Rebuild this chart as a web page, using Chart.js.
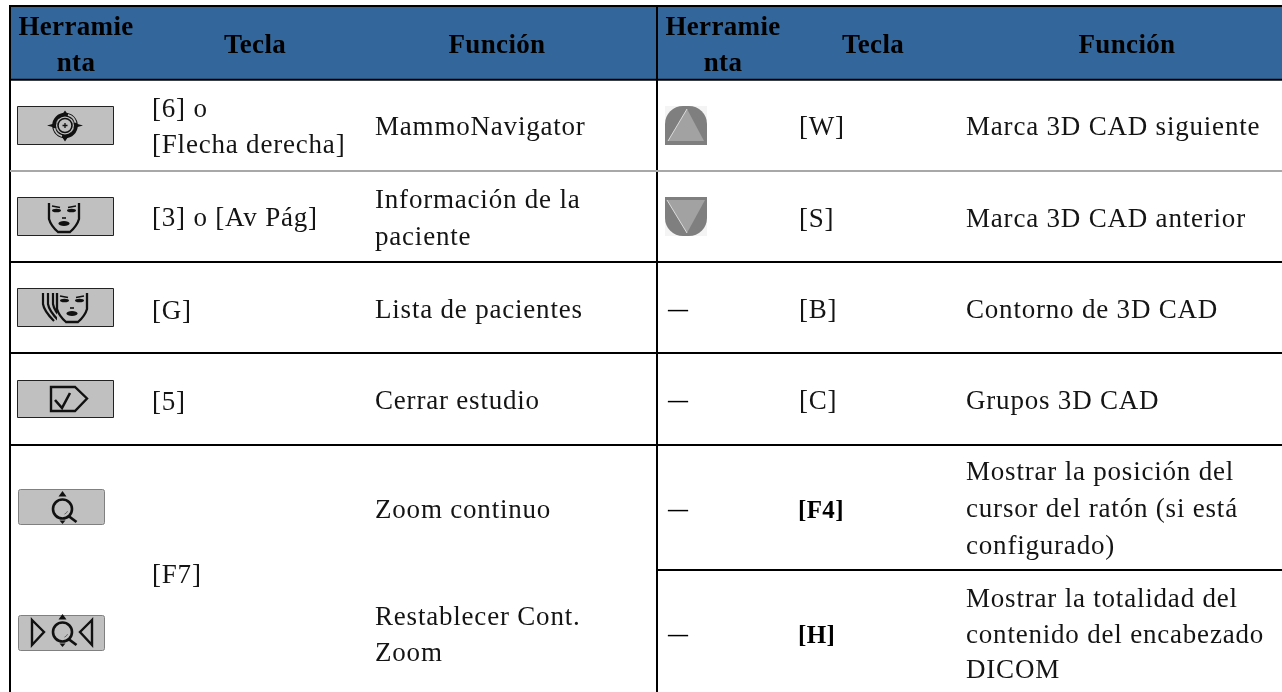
<!DOCTYPE html>
<html lang="es">
<head>
<meta charset="utf-8">
<title>Herramienta, Tecla, Función</title>
<style>html,body{margin:0;padding:0;background:#fff}#c{display:block}</style>
<script src="https://cdn.jsdelivr.net/npm/chart.js@4/dist/chart.umd.min.js"></script>
</head>
<body>
<canvas id="c" width="1282" height="692"></canvas>
<script>
// ---- table content ----
const toolHeader = ["Herramie", "nta"];
const keyHeader = "Tecla";
const funcHeader = "Función";

const leftKeys = [["[6] o", "[Flecha derecha]"], ["[3] o [Av Pág]"], ["[G]"], ["[5]"], ["[F7]"]];
const leftFuncs = [["MammoNavigator"], ["Información de la", "paciente"], ["Lista de pacientes"], ["Cerrar estudio"], ["Zoom continuo"], ["Restablecer Cont.", "Zoom"]];
const rightTools = ["", "", "—", "—", "—", "—"];
const rightKeys = ["[W]", "[S]", "[B]", "[C]", "[F4]", "[H]"];
const rightFuncs = [["Marca 3D CAD siguiente"], ["Marca 3D CAD anterior"], ["Contorno de 3D CAD"], ["Grupos 3D CAD"],
  ["Mostrar la posición del", "cursor del ratón (si está", "configurado)"],
  ["Mostrar la totalidad del", "contenido del encabezado", "DICOM"]];

// ---- layout ----
const W = 1282, H = 692;
const FONT = '"Liberation Serif"';
const SIZE = 27, SPACING = '0.8px', BOLD_SPACING = '0.35px';
const INK = '#141414';
const HEAD = '#33679b';

const rules = [
  {x0:10, x1:W, y0:6, y1:6, c:'#000'},
  {x0:10, x1:W, y0:79.7, y1:79.7, c:'#000'},
  {x0:10, x1:W, y0:171, y1:171, c:'#a8a8a8'},
  {x0:10, x1:W, y0:262, y1:262, c:'#000'},
  {x0:10, x1:W, y0:353, y1:353, c:'#000'},
  {x0:10, x1:W, y0:445, y1:445, c:'#000'},
  {x0:657, x1:W, y0:570, y1:570, c:'#000'},
  {x0:10, x1:10, y0:5, y1:H, c:'#000'},
  {x0:657, x1:657, y0:5, y1:H, c:'#000'}
];

const place = {
  leftKeyX: 152, leftFuncX: 375, rTool: 668, rKey: 799, rKeyBold: 798, rFunc: 966,
  headY: 53, headLines: [35, 71],
  leftKeyY: [[117,153],[226],[319],[410],[583]],
  leftFuncY: [[135],[208,245],[318],[409],[518],[625,661]],
  rKeyY: [135,227,318,409,518,643],
  rFuncY: [[135],[227],[318],[409],[480,517,554],[607,643,678]]
};

const plugin = {
  id: 'tableText',
  beforeDatasetsDraw(chart) {
    const {ctx, scales:{x, y}} = chart;
    ctx.save();
    ctx.fillStyle = HEAD;
    ctx.fillRect(x.getPixelForValue(10), y.getPixelForValue(6), x.getPixelForValue(W)-x.getPixelForValue(10), y.getPixelForValue(79.7)-y.getPixelForValue(6));
    ctx.restore();
  },
  afterDatasetsDraw(chart) {
    const {ctx, scales:{x, y}} = chart;
    const px = v => x.getPixelForValue(v), py = v => y.getPixelForValue(v);
    const put = (s, vx, vy, bold, align, size) => {
      ctx.font = (bold ? 'bold ' : '') + (size || SIZE) + 'px ' + FONT;
      ctx.letterSpacing = bold ? BOLD_SPACING : SPACING;
      ctx.textAlign = align || 'left';
      ctx.textBaseline = 'alphabetic';
      ctx.fillStyle = bold ? '#000' : INK;
      ctx.fillText(s, px(vx), py(vy));
    };
    ctx.save();
    // header
    [[76,255,497],[723,873,1127]].forEach(([a,b,c]) => {
      toolHeader.forEach((s,i) => put(s, a, place.headLines[i], true, 'center'));
      put(keyHeader, b, place.headY, true, 'center');
      put(funcHeader, c, place.headY, true, 'center');
    });
    // body
    leftKeys.forEach((ls,r) => ls.forEach((s,i) => put(s, place.leftKeyX, place.leftKeyY[r][i])));
    leftFuncs.forEach((ls,r) => ls.forEach((s,i) => put(s, place.leftFuncX, place.leftFuncY[r][i])));
    rightKeys.forEach((s,r) => r>=4 ? put(s, place.rKeyBold, place.rKeyY[r], true, 'left', 25) : put(s, place.rKey, place.rKeyY[r]));
    rightTools.forEach((s,r) => { if (s) put(s, place.rTool, place.rKeyY[r]-2, true, 'left', 20); });
    rightFuncs.forEach((ls,r) => ls.forEach((s,i) => put(s, place.rFunc, place.rFuncY[r][i])));
    // icons
    drawButtons(ctx);
    ctx.restore();
  }
};

function poly(ctx, pts, close){ ctx.beginPath(); pts.forEach((p,i)=> i?ctx.lineTo(p[0],p[1]):ctx.moveTo(p[0],p[1])); if(close)ctx.closePath(); }

function button(ctx, x0, y0, x1, y1, stroke, r){
  ctx.fillStyle = '#c0c0c0'; ctx.strokeStyle = stroke; ctx.lineWidth = 1;
  ctx.beginPath(); ctx.roundRect(x0+.5, y0+.5, x1-x0-1, y1-y0-1, r); ctx.fill(); ctx.stroke();
}

function face(ctx, cx, top){
  ctx.strokeStyle = '#111'; ctx.fillStyle = '#111'; ctx.lineWidth = 2.3;
  ctx.beginPath();
  ctx.moveTo(cx-15, top); ctx.lineTo(cx-15, top+16);
  ctx.quadraticCurveTo(cx-13, top+23, cx-6, top+29); ctx.lineTo(cx+6, top+29);
  ctx.quadraticCurveTo(cx+13, top+23, cx+15, top+16); ctx.lineTo(cx+15, top); ctx.stroke();
  ctx.lineWidth = 1.6;
  ctx.beginPath(); ctx.moveTo(cx-12, top+3); ctx.lineTo(cx-4, top+4.5); ctx.moveTo(cx+12, top+3); ctx.lineTo(cx+4, top+4.5); ctx.stroke();
  ctx.beginPath(); ctx.ellipse(cx-7.5, top+7.5, 4.5, 1.8, 0, 0, 7); ctx.ellipse(cx+7.5, top+7.5, 4.5, 1.8, 0, 0, 7); ctx.fill();
  ctx.beginPath(); ctx.moveTo(cx-2, top+15); ctx.lineTo(cx+2, top+15); ctx.stroke();
  ctx.beginPath(); ctx.ellipse(cx, top+20.5, 5.5, 2.4, 0, 0, 7); ctx.fill();
}

function lens(ctx, cx, cy){
  ctx.strokeStyle = '#111'; ctx.fillStyle = '#111'; ctx.lineWidth = 2.6;
  ctx.beginPath(); ctx.arc(cx, cy, 9.5, 0, 7); ctx.stroke();
  ctx.lineWidth = 2.8; ctx.beginPath(); ctx.moveTo(cx+6, cy+7); ctx.lineTo(cx+14, cy+13); ctx.stroke();
  ctx.lineWidth = 1; ctx.strokeStyle = '#666'; ctx.beginPath(); ctx.arc(cx, cy, 5.5, 0.4, 1.2); ctx.stroke();
  ctx.fillStyle = '#111';
  poly(ctx, [[cx,cy-18],[cx-4,cy-12.5],[cx+4,cy-12.5]], true); ctx.fill();
  poly(ctx, [[cx,cy+15],[cx-3,cy+11.5],[cx+3,cy+11.5]], true); ctx.fill();
}

function drawButtons(ctx){
  // MammoNavigator
  button(ctx, 17, 106, 114, 145, '#222', 0);
  let cx = 65, cy = 125.5;
  ctx.fillStyle = '#111';
  poly(ctx, [[cx-18,cy],[cx-9,cy-2.5],[cx,cy-15],[cx+9,cy-2.5],[cx+18,cy],[cx+9,cy+2.5],[cx,cy+16],[cx-9,cy+2.5]], true); ctx.fill();
  ctx.strokeStyle = '#111'; ctx.lineWidth = 3.6;
  ctx.beginPath(); ctx.arc(cx, cy, 11, 0, 7); ctx.stroke();
  ctx.fillStyle = '#c0c0c0'; ctx.beginPath(); ctx.arc(cx, cy, 9, 0, 7); ctx.fill();
  ctx.strokeStyle = '#111'; ctx.lineWidth = 1.6; ctx.beginPath(); ctx.arc(cx, cy, 7, 0, 7); ctx.stroke();
  ctx.lineWidth = 1.3; ctx.beginPath(); ctx.moveTo(cx-2.5,cy); ctx.lineTo(cx+2.5,cy); ctx.moveTo(cx,cy-2.5); ctx.lineTo(cx,cy+2.5); ctx.stroke();
  ctx.strokeStyle = '#c0c0c0'; ctx.lineWidth = 1.8;
  ctx.beginPath(); ctx.arc(cx, cy, 11, -1.3, -0.25); ctx.stroke();
  ctx.beginPath(); ctx.arc(cx, cy, 11, 1.85, 2.9); ctx.stroke();
  // face
  button(ctx, 17, 197, 114, 236, '#222', 0);
  face(ctx, 64, 203);
  // patient list
  button(ctx, 17, 288, 114, 327, '#222', 0);
  ctx.strokeStyle = '#111'; ctx.lineWidth = 2.2;
  [43,48,53].forEach(lx => {
    ctx.beginPath(); ctx.moveTo(lx, 293); ctx.lineTo(lx, 304); ctx.quadraticCurveTo(lx+1, 311, lx+11, 321); ctx.stroke();
  });
  ctx.fillStyle = '#c0c0c0'; ctx.fillRect(57, 292, 31, 31);
  face(ctx, 72, 293);
  // close study
  button(ctx, 17, 380, 114, 418, '#222', 0);
  ctx.strokeStyle = '#111'; ctx.lineWidth = 2.4;
  poly(ctx, [[51,387],[75,387],[87,398.5],[75,411],[51,411]], true); ctx.stroke();
  ctx.lineWidth = 2.6; poly(ctx, [[55,400],[62,408],[70,393]]); ctx.stroke();
  // zoom
  button(ctx, 18, 489, 105, 525, '#808080', 2);
  lens(ctx, 62.5, 509);
  button(ctx, 18, 615, 105, 651, '#808080', 2);
  lens(ctx, 62.5, 632);
  ctx.strokeStyle = '#111'; ctx.lineWidth = 2.4;
  poly(ctx, [[32,620],[44,632],[32,645]], true); ctx.stroke();
  poly(ctx, [[92,620],[80,632],[92,645]], true); ctx.stroke();
  // 3D CAD up
  ctx.fillStyle = '#f4f4f4'; ctx.fillRect(665, 106, 42, 39); ctx.fillRect(665, 197, 42, 39);
  ctx.fillStyle = '#7f7f7f';
  ctx.beginPath(); ctx.roundRect(665, 106, 42, 39, [18,18,0,0]); ctx.fill();
  ctx.fillStyle = '#a2a2a2'; poly(ctx, [[687,109],[704,141],[668,141]], true); ctx.fill();
  ctx.strokeStyle = '#dcdcdc'; ctx.lineWidth = 1; poly(ctx, [[687,109],[668,141]]); ctx.stroke();
  // 3D CAD down
  ctx.fillStyle = '#7f7f7f';
  ctx.beginPath(); ctx.roundRect(665, 197, 42, 39, [0,0,18,18]); ctx.fill();
  ctx.fillStyle = '#a2a2a2'; poly(ctx, [[667,200],[705,200],[687,233]], true); ctx.fill();
  ctx.strokeStyle = '#dcdcdc'; ctx.lineWidth = 1; poly(ctx, [[667,200],[687,233]]); ctx.stroke();
}

new Chart(document.getElementById('c'), {
  type: 'scatter',
  data: {
    datasets: rules.map(r => ({
      data: [{x:r.x0, y:r.y0}, {x:r.x1, y:r.y1}],
      showLine: true, borderColor: r.c, borderWidth: 2, pointRadius: 0, clip: false, tension: 0
    }))
  },
  options: {
    responsive: false, animation: false, events: [],
    layout: {padding: 0},
    plugins: {legend: {display:false}, tooltip: {enabled:false}},
    scales: {
      x: {type:'linear', min:0, max:W, display:false},
      y: {type:'linear', min:0, max:H, reverse:true, display:false}
    }
  },
  plugins: [plugin]
});
</script>
</body>
</html>
